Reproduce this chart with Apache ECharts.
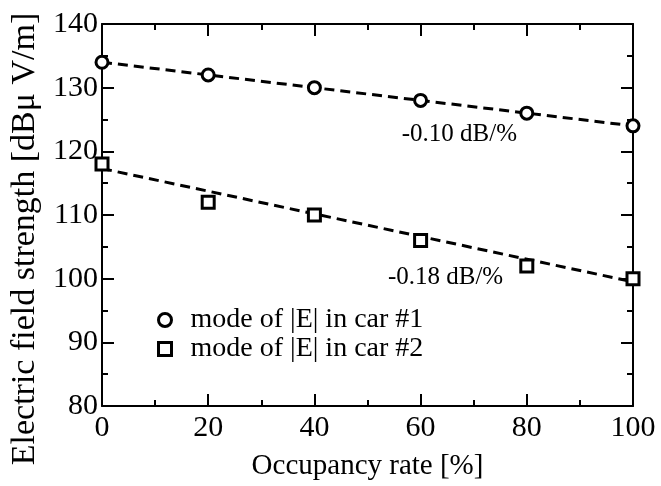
<!DOCTYPE html>
<html>
<head>
<meta charset="utf-8">
<script src="https://cdn.jsdelivr.net/npm/echarts@6/dist/echarts.min.js"></script>
<style>
  html, body { margin: 0; padding: 0; background: #fff; }
  #chart { width: 661px; height: 486px; }
</style>
</head>
<body>
<div id="chart"></div>
<script>
// occupancy rate [%]
const occupancy = [0, 20, 40, 60, 80, 100]
// mode of |E| in car #1 / #2 [dBμV/m]
const car1 = [134, 132, 130, 128, 126, 124]
const car2 = [118, 112, 110, 106, 102, 100]
// fitted lines (end points)
const fit1 = [[0, 134], [100, 124]]
const fit2 = [[0, 117.3], [100, 99.5]]
const slopeLabels = ['-0.10 dB/%', '-0.18 dB/%']
const slopeLabelAt = [[67.3, 122.6], [64.7, 100.2]]

const font = 'Liberation Serif, Times New Roman, serif'

function pairs (xs, ys) {
  return xs.map((x, i) => [x, ys[i]])
}

const tickStyle = {
  axisLine: { show: true, onZero: false, lineStyle: { color: '#000', width: 2 } },
  axisTick: { show: true, inside: true, length: 12, lineStyle: { color: '#000', width: 2 } },
  minorTick: { show: true, splitNumber: 2, length: 6, lineStyle: { color: '#000', width: 2 } },
  splitLine: { show: false }
}

const chart = echarts.init(document.getElementById('chart'))
chart.setOption({
  animation: false,
  textStyle: { fontFamily: font },
  grid: { left: 101, right: 28, top: 24, bottom: 80 },
  xAxis: [
    {
      type: 'value', min: 0, max: 100, interval: 20, position: 'bottom',
      name: 'Occupancy rate [%]', nameLocation: 'middle', nameGap: 46,
      nameTextStyle: { fontFamily: font, fontSize: 29, color: '#000' },
      axisLabel: { fontFamily: font, fontSize: 30, color: '#000', margin: 7 },
      ...tickStyle
    },
    {
      type: 'value', min: 0, max: 100, interval: 20, position: 'top',
      axisLabel: { show: false },
      ...tickStyle
    }
  ],
  yAxis: [
    {
      type: 'value', min: 80, max: 140, interval: 10, position: 'left',
      name: 'Electric field strength [dBμ V/m]', nameLocation: 'middle', nameGap: 60,
      nameTextStyle: { fontFamily: font, fontSize: 34, color: '#000', padding: [0, 48, 0, 0] },
      axisLabel: { fontFamily: font, fontSize: 30, color: '#000', margin: 4 },
      ...tickStyle
    },
    {
      type: 'value', min: 80, max: 140, interval: 10, position: 'right',
      axisLabel: { show: false },
      ...tickStyle
    }
  ],
  legend: {
    orient: 'vertical', left: 152, top: 301, itemGap: 1,
    itemWidth: 13, itemHeight: 13,
    formatter: name => '  ' + name,
    itemStyle: { color: '#fff', borderColor: '#000', borderWidth: 3 },
    textStyle: { fontFamily: font, fontSize: 28, color: '#000' },
    data: [
      { name: 'mode of |E| in car #1', icon: 'circle' },
      { name: 'mode of |E| in car #2', icon: 'rect' }
    ]
  },
  series: [
    {
      name: 'fit1', type: 'line', data: fit1, symbol: 'none', z: 1,
      lineStyle: { color: '#000', width: 3, type: [10, 6] },
      markPoint: {
        symbolSize: 0, silent: true,
        label: { show: true, formatter: slopeLabels[0], fontFamily: font, fontSize: 25, color: '#000' },
        data: [{ coord: slopeLabelAt[0] }]
      }
    },
    {
      name: 'fit2', type: 'line', data: fit2, symbol: 'none', z: 1,
      lineStyle: { color: '#000', width: 3, type: [10, 6] },
      markPoint: {
        symbolSize: 0, silent: true,
        label: { show: true, formatter: slopeLabels[1], fontFamily: font, fontSize: 25, color: '#000' },
        data: [{ coord: slopeLabelAt[1] }]
      }
    },
    {
      name: 'mode of |E| in car #1', type: 'scatter', data: pairs(occupancy, car1),
      symbol: 'circle', symbolSize: 12, z: 3,
      itemStyle: { color: '#fff', borderColor: '#000', borderWidth: 3, opacity: 1 }
    },
    {
      name: 'mode of |E| in car #2', type: 'scatter', data: pairs(occupancy, car2),
      symbol: 'rect', symbolSize: 12, z: 3,
      itemStyle: { color: '#fff', borderColor: '#000', borderWidth: 3, opacity: 1 }
    }
  ]
})
</script>
</body>
</html>
